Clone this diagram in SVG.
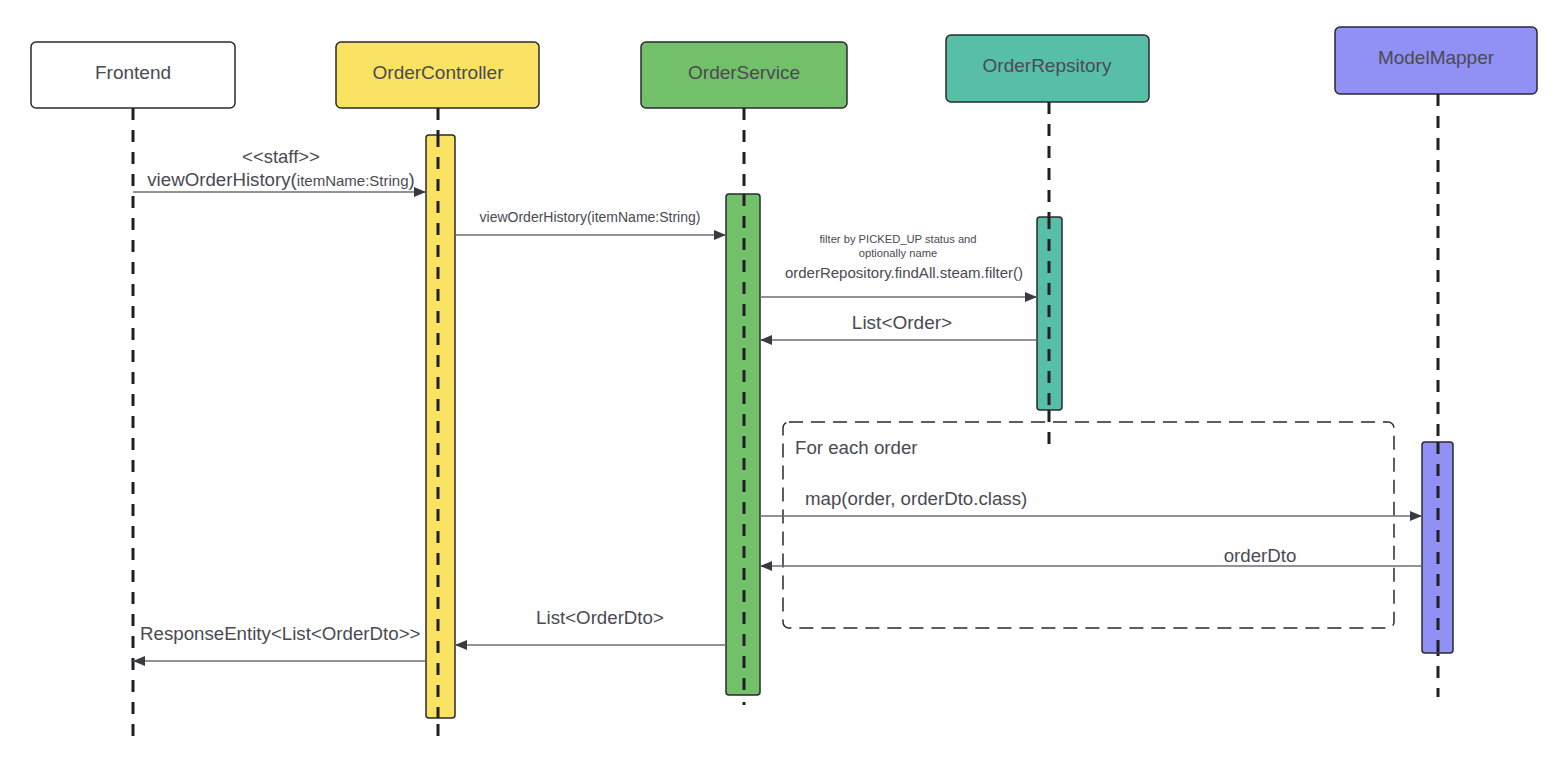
<svg xmlns="http://www.w3.org/2000/svg" width="1564" height="782" viewBox="0 0 1564 782">
<style>
.box{stroke:#2a2a2e;stroke-width:1.5}
.life{stroke:#1f1f24;stroke-width:3;stroke-dasharray:12 10;fill:none}
.act{stroke:#2a2a2e;stroke-width:1.5}
.msg{stroke:#6d6d74;stroke-width:1.3;fill:none}
.t{font-family:"Liberation Sans",Arial,sans-serif;fill:#4a4a52}
.title{font-size:19px;text-anchor:middle}
.m{font-size:18.7px}
</style>
<defs>
<marker id="ah" viewBox="0 0 12 10" refX="12" refY="5" markerWidth="12" markerHeight="10" markerUnits="userSpaceOnUse" orient="auto">
<path d="M0,0 L12,5 L0,10 Z" fill="#3a3a44"/>
</marker>
</defs>
<g id="lifelines">
<line class="life" x1="133" y1="108" x2="133" y2="745"/>
<line class="life" x1="438" y1="108" x2="438" y2="740"/>
<line class="life" x1="744" y1="108" x2="744" y2="705"/>
<line class="life" x1="1049" y1="102" x2="1049" y2="452"/>
<line class="life" x1="1438" y1="94" x2="1438" y2="697"/>
</g>
<g id="frontend">
<rect class="box" x="31" y="42" width="204" height="66" rx="5" fill="#ffffff"/>
<text class="t title" x="133" y="79">Frontend</text>
</g>
<g id="ordercontroller">
<rect class="box" x="336" y="42" width="203" height="66" rx="5" fill="#fae362"/>
<text class="t title" x="438" y="79">OrderController</text>
<rect class="act" x="426" y="135" width="29" height="583" rx="3" fill="#fae362"/>
<line class="life" x1="438" y1="135" x2="438" y2="718"/>
</g>
<g id="orderservice">
<rect class="box" x="641" y="42" width="206" height="66" rx="5" fill="#73c06b"/>
<text class="t title" x="744" y="79">OrderService</text>
<rect class="act" x="726" y="194" width="34" height="501" rx="3" fill="#73c06b"/>
<line class="life" x1="744" y1="194" x2="744" y2="695"/>
</g>
<g id="orderrepository">
<rect class="box" x="946" y="35" width="203" height="67" rx="5" fill="#57bfa8"/>
<text class="t title" x="1047" y="72">OrderRepsitory</text>
<rect class="act" x="1037" y="217" width="25" height="193" rx="3" fill="#57bfa8"/>
<line class="life" x1="1049" y1="217" x2="1049" y2="410"/>
</g>
<g id="modelmapper">
<rect class="box" x="1335" y="27" width="202" height="67" rx="5" fill="#9190f5"/>
<text class="t title" x="1436" y="64">ModelMapper</text>
<rect class="act" x="1422" y="442" width="31" height="211" rx="3" fill="#9190f5"/>
<line class="life" x1="1438" y1="442" x2="1438" y2="653"/>
</g>
<g id="frame">
<rect x="783" y="422" width="611" height="206" rx="6" fill="none" stroke="#2a2a2e" stroke-width="1.5" stroke-dasharray="14 8"/>
<text class="t m" x="795" y="454">For each order</text>
</g>
<g id="connectors">
<line class="msg" x1="133" y1="192" x2="426" y2="192" marker-end="url(#ah)"/>
<text class="t" x="281" y="163" font-size="18.5" text-anchor="middle">&lt;&lt;staff&gt;&gt;</text>
<text class="t" x="281" y="186" text-anchor="middle" font-size="18.7">viewOrderHistory(<tspan font-size="15">itemName:String</tspan>)</text>
<line class="msg" x1="455" y1="235" x2="726" y2="235" marker-end="url(#ah)"/>
<text class="t" x="590" y="222" font-size="14" text-anchor="middle">viewOrderHistory(itemName:String)</text>
<line class="msg" x1="760" y1="297" x2="1037" y2="297" marker-end="url(#ah)"/>
<text class="t" x="898" y="243" font-size="11.2" text-anchor="middle">filter by PICKED_UP status and</text>
<text class="t" x="898" y="257" font-size="11.2" text-anchor="middle">optionally name</text>
<text class="t" x="904" y="278" font-size="15" text-anchor="middle">orderRepository.findAll.steam.filter()</text>
<line class="msg" x1="1037" y1="340" x2="760" y2="340" marker-end="url(#ah)"/>
<text class="t" x="902" y="329" font-size="19" text-anchor="middle">List&lt;Order&gt;</text>
<line class="msg" x1="760" y1="516" x2="1422" y2="516" marker-end="url(#ah)"/>
<text class="t m" x="805" y="505">map(order, orderDto.class)</text>
<line class="msg" x1="1422" y1="566" x2="760" y2="566" marker-end="url(#ah)"/>
<text class="t m" x="1260" y="562" text-anchor="middle">orderDto</text>
<line class="msg" x1="726" y1="645" x2="455" y2="645" marker-end="url(#ah)"/>
<text class="t m" x="600" y="624" text-anchor="middle">List&lt;OrderDto&gt;</text>
<line class="msg" x1="426" y1="661" x2="133" y2="661" marker-end="url(#ah)"/>
<text class="t m" x="140" y="640">ResponseEntity&lt;List&lt;OrderDto&gt;&gt;</text>
</g>
</svg>
